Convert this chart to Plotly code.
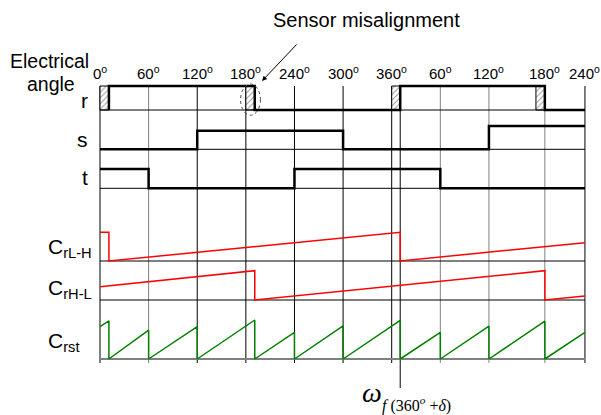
import plotly.graph_objects as go

# ---------------- data (electrical angle, degrees of rotor travel) ----------------
grid_t = [0, 60, 120, 180, 240, 300, 360, 370.5, 420, 480, 549, 598.5]
tick_t = [0, 60, 120, 180, 240, 300, 360, 420, 480, 549, 598.5]
tick_labels = ["0", "60", "120", "180", "240", "300", "360", "60", "120", "180", "240"]

# hall sensor r (with misalignment delta ~ 11 deg)
r_t = [11, 11, 191, 191, 370.5, 370.5, 549, 549, 598.5]
r_v = [0, 1, 1, 0, 0, 1, 1, 0, 0]
hatch_t = [5.5, 185.5, 365.25, 543.5]
hatch_w = [11, 11, 10.5, 11]
hatch_h = [1, 1, 1, 1]

s_t = [0, 120, 120, 300, 300, 480, 480, 598.5]
s_v = [0, 0, 1, 1, 0, 0, 1.25, 1.25]

t_t = [0, 60, 60, 240, 240, 420, 420, 598.5]
t_v = [1, 1, 0, 0, 1, 1, 0, 0]

# counters
crlh_t = [0, 11, 11, 370.5, 370.5, 598.5]
crlh_v = [1.0, 1.0, 0, 1.0, 0, 0.64]

crhl_t = [0, 191, 191, 549, 549, 598.5]
crhl_v = [0.45, 1.0, 0, 1.0, 0, 0.14]

crst_t = [0, 11, 11, 60, 60, 120, 120, 191, 191, 240, 240, 300, 300,
          370.5, 370.5, 420, 420, 480, 480, 549, 549, 598.5]
crst_v = [0.83, 0.98, 0, 0.74, 0, 0.83, 0, 1.0, 0, 0.68, 0, 0.85, 0,
          0.99, 0, 0.68, 0, 0.84, 0, 0.97, 0, 0.68]

# ---------------- layout geometry ----------------
W, H = 601, 415
X0PX = 100.0
PPD = 291.7 / 360.0  # px per degree
XMIN = -X0PX / PPD
XMAX = (W - X0PX) / PPD

# row: (axis name, pixel of value 0, pixels per unit)
rows = {
    "r": ("y", 110.0, 24.0),
    "s": ("y2", 149.3, 18.6),
    "t": ("y3", 188.3, 19.3),
    "crlh": ("y4", 261.0, 28.7),
    "crhl": ("y5", 300.0, 29.3),
    "crst": ("y6", 359.0, 39.0),
}


def xp(px):
    return px / W


def yp(py):
    return 1 - py / H


fig = go.Figure()

BLACK = "#000000"
GRAY = "#808080"
FONT = "Arial, Liberation Sans, sans-serif"
SERIF = "Times New Roman, Liberation Serif, serif"

# baselines
for key, (ax, p0, u) in rows.items():
    fig.add_trace(go.Scatter(x=[0, grid_t[-1]], y=[0, 0], mode="lines", yaxis=ax,
                             line=dict(color=GRAY if key == "crst" else BLACK,
                                       width=2 if key == "crst" else 1),
                             hoverinfo="skip", showlegend=False))

# hatch boxes (sensor misalignment)
fig.add_trace(go.Bar(x=hatch_t, y=hatch_h, width=hatch_w, base=0, yaxis="y",
                     marker=dict(color="white", line=dict(color=BLACK, width=1),
                                 pattern=dict(shape="/", fgcolor="#333333", bgcolor="white",
                                              size=4, solidity=0.25)),
                     hoverinfo="skip", showlegend=False))

sig_line = dict(color=BLACK, width=2.5)
fig.add_trace(go.Scatter(x=r_t, y=r_v, mode="lines", yaxis="y", line=sig_line,
                         hoverinfo="skip", showlegend=False))
fig.add_trace(go.Scatter(x=s_t, y=s_v, mode="lines", yaxis="y2", line=sig_line,
                         hoverinfo="skip", showlegend=False))
fig.add_trace(go.Scatter(x=t_t, y=t_v, mode="lines", yaxis="y3", line=sig_line,
                         hoverinfo="skip", showlegend=False))
fig.add_trace(go.Scatter(x=crlh_t, y=crlh_v, mode="lines", yaxis="y4",
                         line=dict(color="#ff0000", width=1.5), hoverinfo="skip", showlegend=False))
fig.add_trace(go.Scatter(x=crhl_t, y=crhl_v, mode="lines", yaxis="y5",
                         line=dict(color="#ff0000", width=1.5), hoverinfo="skip", showlegend=False))
fig.add_trace(go.Scatter(x=crst_t, y=crst_v, mode="lines", yaxis="y6",
                         line=dict(color="#008000", width=1.5), hoverinfo="skip", showlegend=False))

# vertical grid lines
grid_gray = {1, 8, 9, 10}
shapes = []
for i, g in enumerate(grid_t):
    bottom = 388 if i == 7 else 363
    shapes.append(dict(type="line", xref="x", yref="paper", x0=g, x1=g,
                       y0=yp(bottom), y1=yp(86), layer="below",
                       line=dict(color=GRAY if i in grid_gray else BLACK, width=1)))
# dashed ellipse around misaligned edge
shapes.append(dict(type="circle", xref="x", yref="y", x0=173.5, x1=198,
                   y0=-0.22, y1=1.08, line=dict(color="#444444", width=1, dash="dot")))

annotations = []
for tt, lab in zip(tick_t, tick_labels):
    annotations.append(dict(x=tt, y=yp(72), xref="x", yref="paper", text=lab + "<sup>o</sup>",
                            showarrow=False, xanchor="center", yanchor="middle",
                            font=dict(family=FONT, size=15, color=BLACK)))

def label(text, x, y, size, anchor="left", family=FONT):
    annotations.append(dict(x=xp(x), y=yp(y), xref="paper", yref="paper", text=text,
                            showarrow=False, xanchor=anchor, yanchor="middle",
                            font=dict(family=family, size=size, color=BLACK)))

label("Electrical", 8, 61, 19.5)
label("angle", 25, 84, 19.5)
label("r", 90, 101, 21, "right")
label("s", 90, 139, 21, "right")
label("t", 90, 177, 21, "right")
label("C<sub>rL-H</sub>", 94, 248, 21, "right")
label("C<sub>rH-L</sub>", 94, 289, 21, "right")
label("C<sub>rst</sub>", 82, 342, 21, "right")
label("Sensor misalignment", 366, 20, 20, "center")
label("<i>ω</i>", 360, 392, 28, "left", SERIF)
label("<i>f</i> (360<sup><i>o</i></sup> +<i>δ</i>)", 380, 404, 16, "left", SERIF)

# arrow from label to ellipse
annotations.append(dict(x=(262 - X0PX) / PPD, y=yp(81), xref="x", yref="paper",
                        ax=36, ay=-38, showarrow=True, arrowhead=2, arrowsize=1,
                        arrowwidth=1, arrowcolor=BLACK, text=""))

layout = dict(
    width=W, height=H, margin=dict(l=0, r=0, t=0, b=0),
    paper_bgcolor="white", plot_bgcolor="rgba(0,0,0,0)",
    showlegend=False, shapes=shapes, annotations=annotations,
    xaxis=dict(range=[XMIN, XMAX], domain=[0, 1], visible=False, fixedrange=True),
)
for key, (ax, p0, u) in rows.items():
    rmin = -(H - p0) / u
    rmax = p0 / u
    name = "yaxis" if ax == "y" else "yaxis" + ax[1:]
    d = dict(range=[rmin, rmax], domain=[0, 1], visible=False, fixedrange=True)
    if ax != "y":
        d["overlaying"] = "y"
    layout[name] = d

fig.update_layout(**layout)
fig.write_html("out.html")
